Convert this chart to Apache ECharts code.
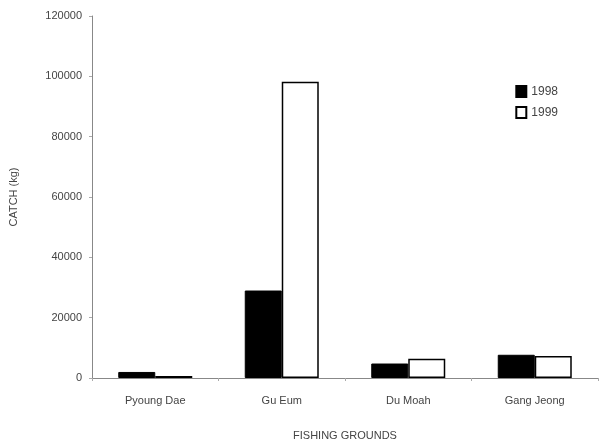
<!DOCTYPE html>
<html><head><meta charset="utf-8">
<script src="https://cdn.jsdelivr.net/npm/echarts@6/dist/echarts.min.js"></script>
<style>html,body{margin:0;padding:0;background:#fff}#c{width:603px;height:447px}</style>
</head><body><div id="c"></div>
<script>
const categories = ['Pyoung Dae', 'Gu Eum', 'Du Moah', 'Gang Jeong'];
const catch1998 = [2000, 29000, 4800, 7700];
const catch1999 = [700, 98200, 6400, 7300];
const seriesNames = ['1998', '1999'];
const yTicks = [0, 20000, 40000, 60000, 80000, 100000, 120000];

const font = 'Liberation Sans, Arial, sans-serif';
const chart = echarts.init(document.getElementById('c'));
chart.setOption({
  animation: false,
  backgroundColor: '#fff',
  textStyle: {fontFamily: font},
  grid: {left: 91, right: 5, top: 16, bottom: 69},
  legend: {
    right: 40, top: 80, orient: 'vertical', itemWidth: 10, itemHeight: 11, itemGap: 8,
    icon: 'rect',
    textStyle: {fontFamily: font, fontSize: 12, color: '#444'},
    data: seriesNames
  },
  xAxis: {
    type: 'category', data: categories,
    name: 'FISHING GROUNDS', nameLocation: 'middle', nameGap: 52,
    nameTextStyle: {fontFamily: font, fontSize: 11, color: '#444'},
    axisLine: {lineStyle: {color: '#888', width: 1}},
    axisTick: {show: true, alignWithLabel: false, length: 3, lineStyle: {color: '#aaa'}},
    axisLabel: {fontFamily: font, fontSize: 11, color: '#444', margin: 17}
  },
  yAxis: {
    type: 'value', min: yTicks[0], max: yTicks[yTicks.length - 1], interval: 20000,
    name: 'CATCH (kg)', nameLocation: 'middle', nameGap: 73,
    nameTextStyle: {fontFamily: font, fontSize: 11, color: '#444'},
    axisLine: {show: true, lineStyle: {color: '#888', width: 1}},
    axisTick: {show: true, length: 3, lineStyle: {color: '#aaa'}},
    splitLine: {show: false},
    axisLabel: {fontFamily: font, fontSize: 11, color: '#444', margin: 10, formatter: v => String(v)}
  },
  series: [
    {name: seriesNames[0], type: 'bar', data: catch1998, barWidth: 37, barGap: '0%',
     itemStyle: {color: '#000', borderColor: '#000', borderWidth: 1}},
    {name: seriesNames[1], type: 'bar', data: catch1999, barWidth: 37,
     itemStyle: {color: '#fff', borderColor: '#000', borderWidth: 1.5}}
  ]
});
</script></body></html>
